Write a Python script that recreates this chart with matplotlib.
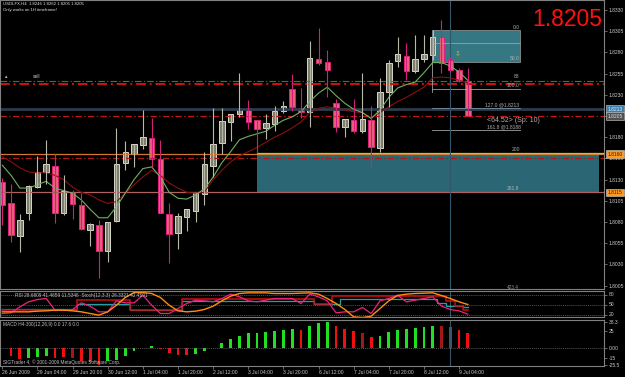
import matplotlib
matplotlib.use("Agg")
import matplotlib.pyplot as plt
import matplotlib.transforms as mtrans
from matplotlib.patches import Rectangle

plt.rcParams['font.family'] = ['Liberation Sans', 'DejaVu Sans']

"================================================================="
# Data (USDLFX H4)

opens  = [1.8127, 1.8102, 1.8064, 1.8091, 1.8121, 1.8139, 1.8146, 1.8091, 1.8115, 1.8100,
          1.8071, 1.8077, 1.8046, 1.8081, 1.8149, 1.8160, 1.8171, 1.8179, 1.8154, 1.8089,
          1.8067, 1.8086, 1.8093, 1.8113, 1.8146, 1.8173, 1.8198, 1.8207, 1.8214, 1.8200,
          1.8191, 1.8196, 1.8211, 1.8237, 1.8214, 1.8210, 1.8272, 1.8269, 1.8220, 1.8192,
          1.8200, 1.8187, 1.8200, 1.8167, 1.8233, 1.8270, 1.8276, 1.8258, 1.8272, 1.8277,
          1.8298, 1.8271, 1.8259, 1.8246]
highs  = [1.8132, 1.8125, 1.8089, 1.8124, 1.8158, 1.8177, 1.8160, 1.8135, 1.8118, 1.8114,
          1.8079, 1.8082, 1.8080, 1.8191, 1.8176, 1.8172, 1.8212, 1.8203, 1.8177, 1.8102,
          1.8091, 1.8095, 1.8114, 1.8163, 1.8214, 1.8214, 1.8207, 1.8256, 1.8224, 1.8200,
          1.8207, 1.8217, 1.8223, 1.8255, 1.8238, 1.8293, 1.8309, 1.8283, 1.8225, 1.8201,
          1.8225, 1.8256, 1.8217, 1.8250, 1.8271, 1.8298, 1.8291, 1.8300, 1.8300, 1.8306,
          1.8318, 1.8275, 1.8262, 1.8262]
lows   = [1.8077, 1.8056, 1.8045, 1.8082, 1.8120, 1.8125, 1.8079, 1.8088, 1.8084, 1.8071,
          1.8052, 1.8014, 1.8033, 1.8080, 1.8141, 1.8145, 1.8166, 1.8145, 1.8091, 1.8032,
          1.8048, 1.8069, 1.8080, 1.8100, 1.8133, 1.8160, 1.8176, 1.8204, 1.8190, 1.8161,
          1.8178, 1.8187, 1.8209, 1.8211, 1.8203, 1.8192, 1.8265, 1.8227, 1.8186, 1.8180,
          1.8185, 1.8185, 1.8144, 1.8163, 1.8216, 1.8263, 1.8247, 1.8256, 1.8269, 1.8271,
          1.8256, 1.8257, 1.8245, 1.8205]
closes = [1.8100, 1.8065, 1.8082, 1.8123, 1.8139, 1.8148, 1.8091, 1.8117, 1.8101, 1.8072,
          1.8078, 1.8046, 1.8080, 1.8148, 1.8162, 1.8172, 1.8180, 1.8154, 1.8091, 1.8066,
          1.8087, 1.8095, 1.8114, 1.8148, 1.8172, 1.8199, 1.8207, 1.8213, 1.8198, 1.8190,
          1.8197, 1.8211, 1.8217, 1.8216, 1.8210, 1.8273, 1.8267, 1.8259, 1.8192, 1.8201,
          1.8187, 1.8201, 1.8168, 1.8233, 1.8267, 1.8278, 1.8258, 1.8272, 1.8278, 1.8298,
          1.8267, 1.8259, 1.8246, 1.8205]

ma_fast = [1.8147, 1.8135, 1.8120, 1.8120, 1.8124, 1.8128, 1.8120, 1.8117, 1.8114, 1.8106,
           1.8095, 1.8085, 1.8085, 1.8098, 1.8114, 1.8130, 1.8143, 1.8145, 1.8133, 1.8115,
           1.8108, 1.8107, 1.8112, 1.8119, 1.8133, 1.8150, 1.8163, 1.8177, 1.8181, 1.8184,
           1.8187, 1.8194, 1.8200, 1.8204, 1.8210, 1.8222, 1.8232, 1.8239, 1.8229, 1.8220,
           1.8213, 1.8209, 1.8202, 1.8212, 1.8227, 1.8238, 1.8242, 1.8245, 1.8256, 1.8268,
           1.8268, 1.8264, 1.8257, 1.8247]
ma_slow = [1.8157, 1.8151, 1.8144, 1.8139, 1.8138, 1.8138, 1.8135, 1.8130, 1.8121, 1.8115,
           1.8112, 1.8106, 1.8102, 1.8104, 1.8114, 1.8124, 1.8133, 1.8141, 1.8135, 1.8126,
           1.8120, 1.8115, 1.8114, 1.8115, 1.8130, 1.8141, 1.8151, 1.8158, 1.8163, 1.8168,
           1.8174, 1.8180, 1.8185, 1.8191, 1.8198, 1.8209, 1.8214, 1.8216, 1.8214, 1.8212,
           1.8210, 1.8209, 1.8203, 1.8209, 1.8216, 1.8222, 1.8227, 1.8233, 1.8239, 1.8250,
           1.8251, 1.8250, 1.8247, 1.8244]

rsi_orange = [28, 28, 28, 28, 30, 31, 33, 33, 31, 28, 23, 18, 28, 48, 71, 86, 86, 83, 71, 48,
              31, 28, 30, 35, 45, 61, 75, 83, 85, 85, 85, 83, 83, 83, 84, 85, 81, 68, 53, 35,
              13, 11, 15, 38, 61, 77, 81, 83, 84, 85, 77, 68, 58, 50]
rsi_pink = [23, 25, 43, 58, 65, 68, 33, 33, 35, 55, 45, 28, 28, 61, 55, 55, 78, 48, 23, 23,
            38, 53, 63, 61, 58, 68, 81, 73, 61, 58, 63, 68, 68, 68, 53, 81, 73, 61, 25, 28,
            28, 41, 23, 61, 68, 78, 58, 63, 68, 73, 45, 35, 31, 21]
stoch_red = [33, 33, 33, 33, 33, 33, 33, 33, 33, 63, 63, 63, 63, 63, 63, 33, 33, 33, 33, 33,
             33, 68, 68, 68, 68, 68, 68, 68, 68, 68, 68, 68, 68, 68, 68, 68, 51, 51, 75, 75,
             75, 75, 75, 75, 75, 75, 75, 75, 75, 75, 75, 60, 45, 35]
stoch_teal = [38, 38, 38, 38, 38, 38, 38, 38, 38, 53, 53, 53, 53, 53, 53, 33, 33, 33, 33, 33,
              33, 60, 60, 60, 60, 60, 60, 60, 60, 60, 60, 60, 60, 60, 60, 60, 51, 51, 51, 68,
              68, 68, 68, 68, 68, 68, 68, 68, 68, 68, 55, 45, 45, 44]

macd_hist = [0.0, -11.8, -16.2, -14.7, -13.2, -11.8, -14.7, -13.2, -14.7, -19.1,
             -20.6, -25.0, -19.1, -17.6, -11.8, -4.4, -0.7, 2.9, -1.5, -7.4,
             -10.3, -10.3, -8.8, -4.4, 0.0, 7.4, 13.2, 17.6, 22.1, 22.1,
             23.5, 25.0, 26.5, 27.9, 26.5, 32.3, 36.8, 38.2, 32.3, 27.9,
             25.0, 22.1, 16.2, 17.6, 23.5, 26.5, 27.9, 29.4, 30.9, 32.3,
             32.3, 30.9, 26.5, 22.1]
macd_cols = ['r', 'r', 'r', 'g', 'g', 'g', 'r', 'r', 'd', 'r',
             'r', 'r', 'g', 'g', 'g', 'g', 'g', 'g', 'r', 'r',
             'r', 'r', 'g', 'g', 'g', 'g', 'g', 'g', 'g', 'g',
             'g', 'g', 'g', 'g', 'r', 'g', 'g', 'g', 'r', 'r',
             'r', 'd', 'r', 'g', 'g', 'g', 'g', 'g', 'g', 'g',
             'd', 'r', 'r', 'r']

time_labels = ["26 Jun 2009", "29 Jun 04:00", "29 Jun 20:00", "30 Jun 12:00", "1 Jul 04:00",
               "1 Jul 20:00", "2 Jul 12:00", "3 Jul 04:00", "3 Jul 20:00", "6 Jul 12:00",
               "7 Jul 04:00", "7 Jul 20:00", "8 Jul 12:00", "9 Jul 04:00"]
price_ticks = [1.8330, 1.8305, 1.8280, 1.8255, 1.8230, 1.8205, 1.8180, 1.8155,
               1.8130, 1.8105, 1.8080, 1.8055, 1.8030, 1.8005]

"================================================================="
# Figure and panels

W, H = 625, 377
fig = plt.figure(figsize=(6.25, 3.77), dpi=100, facecolor='black')

def panel(top, bottom):
    return fig.add_axes([0, 1 - bottom / H, 604 / W, (bottom - top) / H], facecolor='black')

ax = panel(0, 289)
ax_rsi = panel(291, 317)
ax_macd = panel(320, 366)

xmin, xmax = -0.26, 68.5
txt = '#c8c8c8'
for a in (ax, ax_rsi, ax_macd):
    a.set_xlim(xmin, xmax)
    for s in a.spines.values():
        s.set_color('#808080')
        s.set_linewidth(0.8)
    a.yaxis.tick_right()
    a.tick_params(axis='y', colors='#909090', labelcolor=txt, labelsize=3.6,
                  length=2, width=0.5, pad=1.5)
    a.tick_params(axis='x', bottom=False, labelbottom=False)

"================================================================="
# Main chart

ax.set_ylim(1.80010, 1.83418)
ax.set_yticks(price_ticks)
ax.set_yticklabels(["%.4f" % p for p in price_ticks])

# levels
ax.axhline(1.8246, color='#00a000', lw=0.8, ls=(0, (6, 2, 1, 2)))
ax.axhline(1.8243, color='#d01010', lw=1.4, ls=(0, (5, 2, 1, 2)))
ax.axhline(1.8213, color='#2c3c4c', lw=2.0)
ax.axhline(1.8205, color='#c01818', lw=0.9, ls=(0, (5, 2, 1, 2)))
ax.axhline(1.8160, color='#d07830', lw=0.9)
ax.axhline(1.8155, color='#b01818', lw=0.9, ls=(0, (5, 2, 1, 2)))
ax.axhline(1.8115, color='#b06060', lw=0.9)

# target boxes
ax.add_patch(Rectangle((29.0, 1.8115), 38.9, 0.0046, facecolor='#2b6674', edgecolor='none'))
ax.plot([29.0, 68.5], [1.8161, 1.8161], color='#c8c820', lw=0.9)
ax.add_patch(Rectangle((48.9, 1.8269), 10.0, 0.0037, facecolor='#367784', edgecolor='#9aa0a0', lw=0.5))
for lev in (1.8291, 1.8237, 1.8188):
    ax.plot([48.9, 58.9], [lev, lev], color='#a0a0a0', lw=0.6)
ax.plot([48.9, 58.9], [1.8214, 1.8214], color='#7890a0', lw=0.6)
ax.plot([48.9, 48.9], [1.8233, 1.8298], color='#a0a0a0', lw=0.6)

# crosshair
for a in (ax, ax_rsi, ax_macd):
    a.axvline(51.0, color='#35566a', lw=0.8)

# moving averages
bars = list(range(len(opens)))
ax.plot(bars, ma_slow, color='#8a1010', lw=0.8)
ax.plot(bars, ma_fast, color='#70b060', lw=0.8)

# candles
for i in bars:
    o, h, l, c = opens[i], highs[i], lows[i], closes[i]
    if c >= o:
        wick, face, edge = '#b8b8a8', '#7c7c6c', '#d8d8c8'
    else:
        wick, face, edge = '#d0207a', '#e8607a', '#e0207a'
    ax.vlines(i, l, h, color=wick, lw=0.8)
    ax.bar(i, max(abs(c - o), 0.00006), width=0.62, bottom=min(o, c),
           color=face, edgecolor=edge, linewidth=0.7)

# level texts
small = dict(color='#b0b0b0', fontsize=3.6)
ax.text(58.9, 1.8307, "0.0", ha='right', va='bottom', **small)
ax.text(58.9, 1.8270, "50.0", ha='right', va='bottom', **small)
ax.text(58.9, 1.8249, "88", ha='right', va='bottom', **small)
ax.text(58.9, 1.8238, "100.0", ha='right', va='bottom', **small)
ax.text(55.0, 1.8215, "127.0 @1.8213", ha='left', va='bottom', **small)
ax.text(55.2, 1.8200, "<64.52> (Sp: 10)", ha='left', va='center', color='#b0b0b0', fontsize=5)
ax.text(55.2, 1.8189, "161.8 @1.8188", ha='left', va='bottom', **small)
ax.text(58.0, 1.8162, "200", ha='left', va='bottom', **small)
ax.text(57.4, 1.8116, "261.8", ha='left', va='bottom', **small)
ax.text(51.8, 1.8279, "\u21e9", ha='center', va='center', color='#d0c000', fontsize=5,
        family='DejaVu Sans')
ax.text(0.3, 1.8251, "\u25b4", ha='left', va='center', color='#c0c0c0', fontsize=3.5,
        family='DejaVu Sans')
ax.text(3.5, 1.8251, "sell", ha='left', va='center', color='#c0c0c0', fontsize=3.5)

# price boxes on the right scale
tr = mtrans.blended_transform_factory(ax.transAxes, ax.transData)
for val, bg, fg in [(1.8213, '#3c7fae', '#e0f0ff'), (1.8205, '#505050', '#e0e0e0'),
                    (1.8160, '#ff9a20', '#202020'), (1.8115, '#ff9a20', '#202020')]:
    ax.text(1.006, val, "%.4f" % val, transform=tr, ha='left', va='center', fontsize=3.6,
            color=fg, clip_on=False,
            bbox=dict(boxstyle='square,pad=0.25', facecolor=bg, edgecolor='#d0d0d0', lw=0.4))

fig.text(3 / W, 1 - 2 / H, "USDLFX,H4  1.8246 1.8262 1.8205 1.8205", ha='left', va='top',
         color='#e0e0e0', fontsize=3.1)
fig.text(3 / W, 1 - 8 / H, "Only works on 1H timeframe!", ha='left', va='top',
         color='#e0e0e0', fontsize=3.1)
fig.text(602 / W, 1 - 8 / H, "1.8205", ha='right', va='top', color='#ff1010', fontsize=16.5)

"================================================================="
# RSI / Stoch panel

ax_rsi.set_ylim(12.5, 90.5)
ax_rsi.set_yticks([80, 50, 20])
for lev in (80, 50, 20):
    ax_rsi.axhline(lev, color='#707070', lw=0.5, ls=(0, (1.5, 1.5)))
ax_rsi.step(bars, stoch_teal, where='mid', color='#20a0a0', lw=0.9)
ax_rsi.step(bars, stoch_red, where='mid', color='#c81010', lw=1.1)
ax_rsi.plot(bars, rsi_pink, color='#f0207f', lw=0.9)
ax_rsi.plot(bars, rsi_orange, color='#ff8c10', lw=1.0)
ax_rsi.text(0.025, 0.84, "RSI 28.6809 41.4659 11.5346  Stoch(12,3,3) 26.3321 42.4591",
            transform=ax_rsi.transAxes, ha='left', va='center', color='#c0c0c0', fontsize=3.4)
ax_rsi.text(507 / 604, 1.02, "423.4", transform=ax_rsi.transAxes, ha='left', va='bottom',
            color='#909090', fontsize=3.4)

"================================================================="
# MACD panel

ax_macd.set_ylim(-27.0, 40.6)
ax_macd.set_yticks([38.3, 25, 0, -15, -25.5])
ax_macd.set_yticklabels(['38.3', '25', '0.00', '-15', '-25.5'])
ax_macd.axhline(0, color='#707070', lw=0.5, ls=(0, (1.5, 1.5)))
cmap = {'g': '#20e020', 'r': '#f01010', 'd': '#a01818'}
ax_macd.bar(bars, macd_hist, width=0.32, color=[cmap[c] for c in macd_cols])
ax_macd.text(0.005, 0.9, "MACD H4-300(12,26,9) 0.0 17.6 0.0", transform=ax_macd.transAxes,
             ha='left', va='center', color='#c0c0c0', fontsize=3.4)
ax_macd.text(0.005, 0.08, "SIGTrader 4, \u00a9 2001-2009 MetaQuotes Software Corp.",
             transform=ax_macd.transAxes, ha='left', va='center', color='#c0c0c0', fontsize=3.4)

# time scale
ax_macd.tick_params(axis='x', bottom=True, labelbottom=True, colors='#909090',
                    labelcolor=txt, labelsize=3.6, length=2, width=0.5, pad=1)
ax_macd.set_xticks(bars[::4])
ax_macd.set_xticklabels(time_labels)
for lab in ax_macd.get_xticklabels():
    lab.set_ha('left')

fig.savefig("out.png", dpi=100, facecolor='black')
